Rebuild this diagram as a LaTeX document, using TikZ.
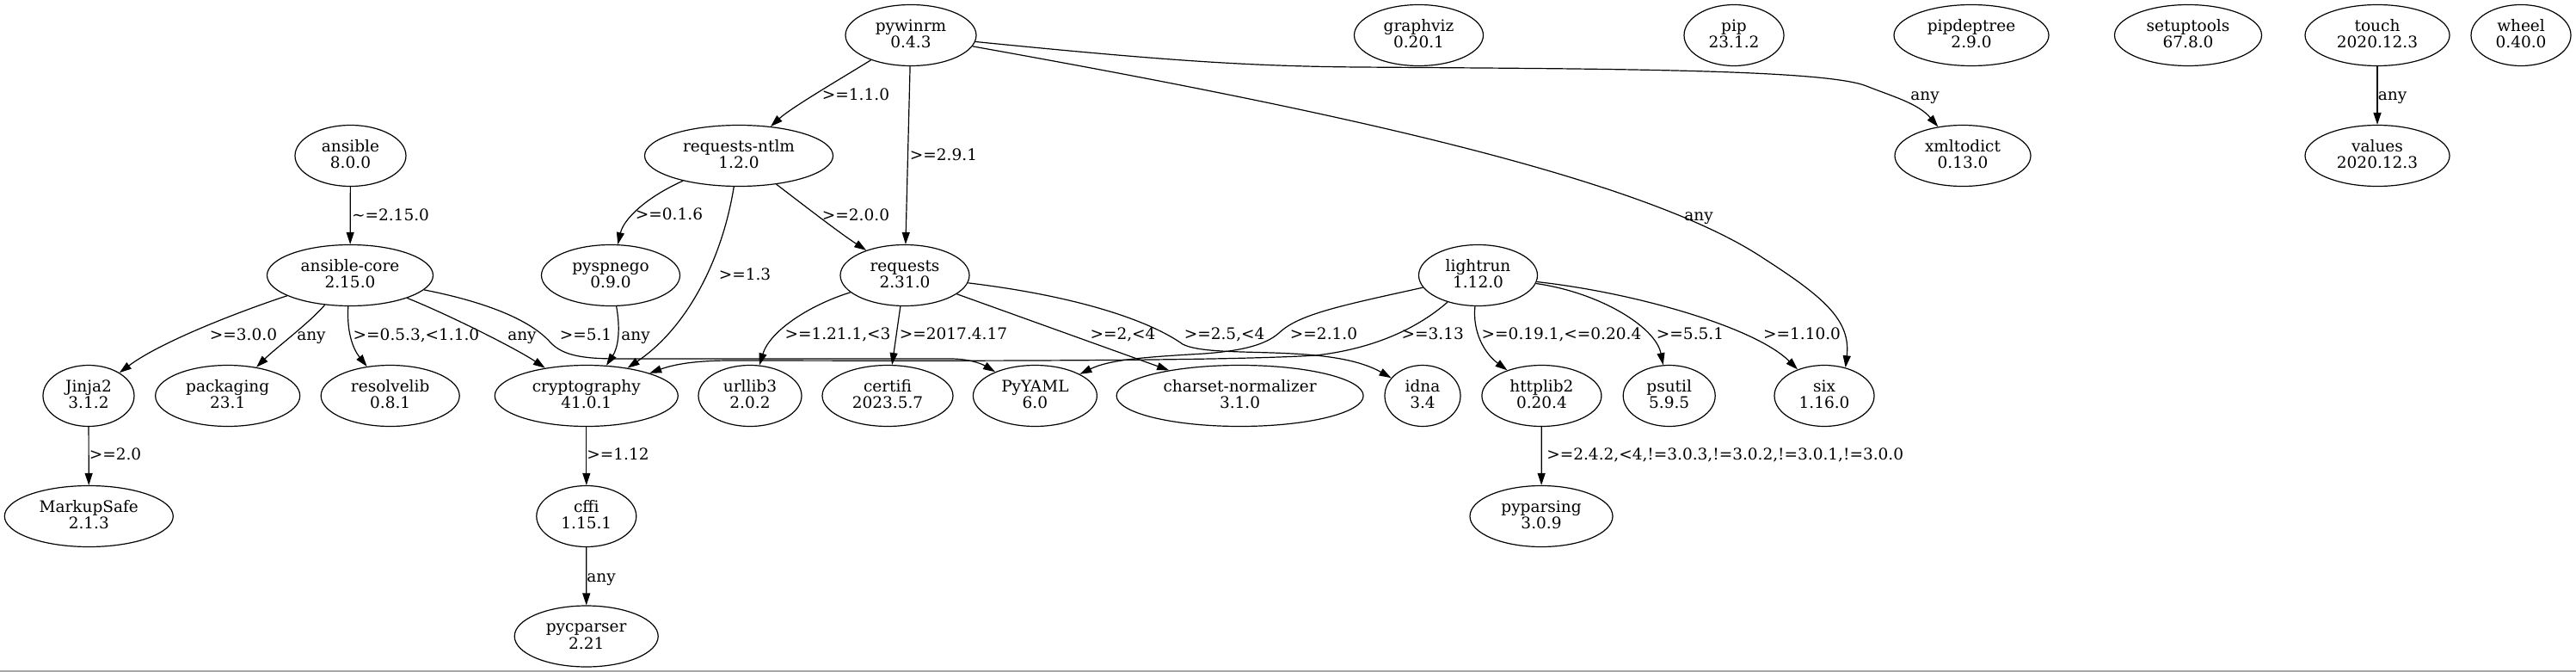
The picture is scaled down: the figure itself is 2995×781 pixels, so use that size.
\documentclass[tikz,border=0pt]{standalone}
\usepackage{fontspec}
\setmainfont{DejaVu Serif}
\usetikzlibrary{shapes.geometric,arrows.meta}
\newcommand\pk[2]{\rule{0pt}{14pt}#1\\#2\rule[-4pt]{0pt}{0pt}}
\begin{document}
\begin{tikzpicture}[x=1pt,y=-1pt,
  pkg/.style={draw, ellipse, line width=1.2pt, inner sep=0pt, minimum height=71pt, align=center, font=\fontsize{18.5}{19.3}\selectfont},
  dep/.style={line width=1.2pt, -{Triangle[length=14pt,width=9pt]}},
  lbl/.style={inner sep=0pt, text height=13.5pt, text depth=0pt, font=\fontsize{18.5}{19.3}\selectfont}]
\fill[white] (0,0) rectangle (2995,781);
\useasboundingbox (0,0) rectangle (2995,781);
\draw[line width=2pt, black!35] (0,780) -- (2995,780);

% row 0
\node[pkg, minimum width=152pt] (pywinrm) at (1059,41) {\pk{pywinrm}{0.4.3}};
\node[pkg, minimum width=150pt] (graphviz) at (1649.5,41) {\pk{graphviz}{0.20.1}};
\node[pkg, minimum width=116pt] (pip) at (2016,41) {\pk{pip}{23.1.2}};
\node[pkg, minimum width=180pt] (pipdeptree) at (2292,41) {\pk{pipdeptree}{2.9.0}};
\node[pkg, minimum width=171pt] (setuptools) at (2544,41) {\pk{setuptools}{67.8.0}};
\node[pkg, minimum width=168pt] (touch) at (2764,41) {\pk{touch}{2020.12.3}};
\node[pkg, minimum width=116pt] (wheel) at (2931,41) {\pk{wheel}{0.40.0}};
% row 1
\node[pkg, minimum width=129pt] (ansible) at (407.5,181) {\pk{ansible}{8.0.0}};
\node[pkg, minimum width=219pt] (requests-ntlm) at (859,181) {\pk{requests-ntlm}{1.2.0}};
\node[pkg, minimum width=158pt] (xmltodict) at (2282,181) {\pk{xmltodict}{0.13.0}};
\node[pkg, minimum width=168pt] (values) at (2764,181) {\pk{values}{2020.12.3}};
% row 2
\node[pkg, minimum width=193pt] (ansible-core) at (407,320) {\pk{ansible-core}{2.15.0}};
\node[pkg, minimum width=161pt] (pyspnego) at (710,320) {\pk{pyspnego}{0.9.0}};
\node[pkg, minimum width=150pt] (requests) at (1052,320) {\pk{requests}{2.31.0}};
\node[pkg, minimum width=138pt] (lightrun) at (1718.5,320) {\pk{lightrun}{1.12.0}};
% row 3
\node[pkg, minimum width=106pt] (Jinja2) at (103,460) {\pk{Jinja2}{3.1.2}};
\node[pkg, minimum width=168pt] (packaging) at (264.7,460) {\pk{packaging}{23.1}};
\node[pkg, minimum width=161pt] (resolvelib) at (453.7,460) {\pk{resolvelib}{0.8.1}};
\node[pkg, minimum width=213pt] (cryptography) at (681.8,460) {\pk{cryptography}{41.0.1}};
\node[pkg, minimum width=120pt] (urllib3) at (872,460) {\pk{urllib3}{2.0.2}};
\node[pkg, minimum width=152pt] (certifi) at (1032,460) {\pk{certifi}{2023.5.7}};
\node[pkg, minimum width=144pt] (PyYAML) at (1203.4,460) {\pk{PyYAML}{6.0}};
\node[pkg, minimum width=287pt] (charset-normalizer) at (1441.6,460) {\pk{charset-normalizer}{3.1.0}};
\node[pkg, minimum width=88pt] (idna) at (1654,460) {\pk{idna}{3.4}};
\node[pkg, minimum width=139pt] (httplib2) at (1792.4,460) {\pk{httplib2}{0.20.4}};
\node[pkg, minimum width=107pt] (psutil) at (1940.7,460) {\pk{psutil}{5.9.5}};
\node[pkg, minimum width=116pt] (six) at (2121,460) {\pk{six}{1.16.0}};
% row 4
\node[pkg, minimum width=196pt] (MarkupSafe) at (103.3,600) {\pk{MarkupSafe}{2.1.3}};
\node[pkg, minimum width=116pt] (cffi) at (681.8,600) {\pk{cffi}{1.15.1}};
\node[pkg, minimum width=166pt] (pyparsing) at (1792,600) {\pk{pyparsing}{3.0.9}};
% row 5
\node[pkg, minimum width=167pt] (pycparser) at (681.7,739.5) {\pk{pycparser}{2.21}};

% edges
\draw[dep] (ansible) -- (ansible-core);
\draw[dep] (ansible-core) .. controls (290,358) and (190,395) .. (Jinja2);
\draw[dep] (ansible-core) .. controls (360,375) and (320,405) .. (packaging);
\draw[dep] (ansible-core) .. controls (403,385) and (410,405) .. (resolvelib);
\draw[dep] (ansible-core) .. controls (520,365) and (600,405) .. (cryptography);
\draw[dep] (ansible-core) .. controls (560,350) and (615,370) .. (640,398) .. controls (655,414) and (680,417) .. (720,417) -- (1105,417) .. controls (1125,417) and (1140,422) .. (PyYAML);
\draw[dep] (pyspnego) .. controls (722,385) and (718,405) .. (cryptography);
\draw[dep] (requests-ntlm) .. controls (840,300) and (800,380) .. (cryptography);
\draw[dep] (requests-ntlm) .. controls (750,230) and (725,255) .. (pyspnego);
\draw[dep] (pywinrm) .. controls (980,90) and (920,125) .. (requests-ntlm);
\draw[dep] (requests-ntlm) .. controls (930,235) and (975,270) .. (requests);
\draw[dep] (pywinrm) -- (requests);
\draw[dep] (pywinrm) .. controls (1350,70) and (1450,77) .. (1580,78) .. controls (1850,80) and (2120,80) .. (2170,100) .. controls (2200,112) and (2230,120) .. (xmltodict);
\draw[dep] (pywinrm) .. controls (1500,120) and (1900,200) .. (2050,300) .. controls (2120,345) and (2152,372) .. (six.53);
\draw[dep] (touch) -- (values);
\draw[dep] (requests) .. controls (940,355) and (895,385) .. (urllib3);
\draw[dep] (requests) -- (certifi);
\draw[dep] (requests) -- (charset-normalizer);
\draw[dep] (requests) .. controls (1260,345) and (1340,375) .. (1375,400) .. controls (1410,418) and (1545,398) .. (idna);
\draw[dep] (lightrun) .. controls (1560,355) and (1510,365) .. (1487,387) .. controls (1470,402) and (1440,408) .. (1400,411) .. controls (1330,415) and (1290,418) .. (PyYAML);
\draw[dep] (lightrun) .. controls (1650,380) and (1600,405) .. (1530,413) .. controls (1400,421) and (1000,419) .. (850,419) .. controls (810,419) and (785,423) .. (cryptography);
\draw[dep] (lightrun) .. controls (1712,385) and (1725,410) .. (httplib2);
\draw[dep] (lightrun) .. controls (1860,340) and (1925,380) .. (psutil);
\draw[dep] (lightrun) .. controls (1900,340) and (2040,380) .. (six);
\draw[dep] (Jinja2) -- (MarkupSafe);
\draw[dep] (cryptography) -- (cffi);
\draw[dep] (cffi) -- (pycparser);
\draw[dep] (httplib2) -- (pyparsing);

% edge labels
\node[lbl] (l1) at (454,250) {\textasciitilde=2.15.0};
\node[lbl] (l2) at (283,389) {>=3.0.0};
\node[lbl] (l3) at (362,389) {any};
\node[lbl] (l4) at (484,389) {>=0.5.3,<1.1.0};
\node[lbl] (l5) at (607,389) {any};
\node[lbl] (l6) at (681,389) {>=5.1};
\node[lbl] (l7) at (739,389) {any};
\node[lbl] (l8) at (866,319) {>=1.3};
\node[lbl] (l9) at (778,249) {>=0.1.6};
\node[lbl] (l10) at (995,110) {>=1.1.0};
\node[lbl] (l11) at (995,250) {>=2.0.0};
\node[lbl] (l12) at (1097,180) {>=2.9.1};
\node[lbl] (l13) at (1975,250) {any};
\node[lbl] (l14) at (2238,110) {any};
\node[lbl] (l15) at (2781.6,110) {any};
\node[lbl] (l16) at (974,388) {>=1.21.1,<3};
\node[lbl] (l17) at (1108.5,388) {>=2017.4.17};
\node[lbl] (l18) at (1305.5,388) {>=2,<4};
\node[lbl] (l19) at (1423.6,388) {>=2.5,<4};
\node[lbl] (l20) at (1539,388) {>=2.1.0};
\node[lbl] (l21) at (1665.7,388) {>=3.13};
\node[lbl] (l22) at (1815.5,388) {>=0.19.1,<=0.20.4};
\node[lbl] (l23) at (1965,388) {>=5.5.1};
\node[lbl] (l24) at (2095,388) {>=1.10.0};
\node[lbl] (l25) at (134,528) {>=2.0};
\node[lbl] (l26) at (718.5,528) {>=1.12};
\node[lbl] (l27) at (699,670) {any};
\node[lbl] (l28) at (2005.7,528) {>=2.4.2,<4,!=3.0.3,!=3.0.2,!=3.0.1,!=3.0.0};
\end{tikzpicture}
\end{document}
